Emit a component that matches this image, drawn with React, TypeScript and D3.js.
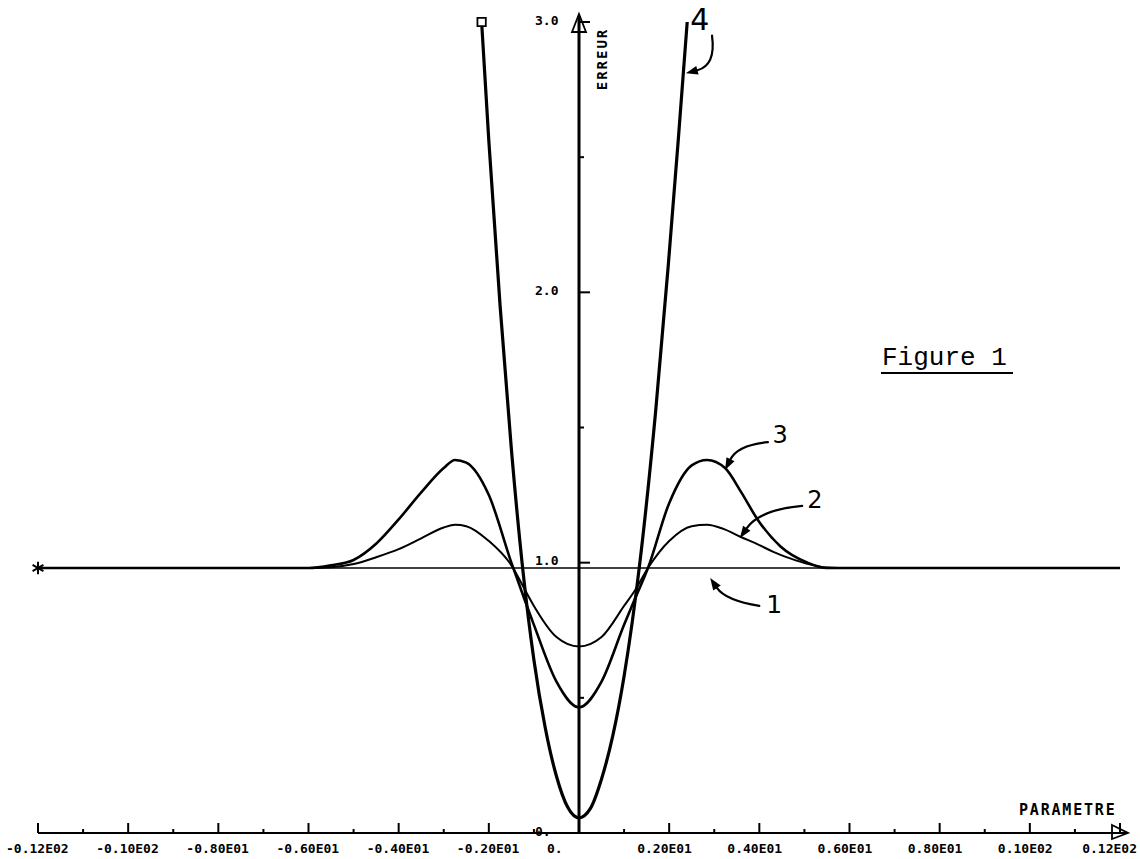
import React, { useEffect, useRef } from 'react';
import * as d3 from 'd3';

const WIDTH = 1140;
const HEIGHT = 859;

// axes
const xMajorTicks = [-12, -10, -8, -6, -4, -2, 0, 2, 4, 6, 8, 10, 12];
const xTickLabels = ['-0.12E02', '-0.10E02', '-0.80E01', '-0.60E01', '-0.40E01', '-0.20E01', '0.', '0.20E01', '0.40E01', '0.60E01', '0.80E01', '0.10E02', '0.12E02'];
const xMinorTicks = [-11, -9, -7, -5, -3, -1, 1, 3, 5, 7, 9, 11];
const yMajorTicks = [0, 1, 2, 3];
const yTickLabels = ['0.', '1.0', '2.0', '3.0'];
const yMinorTicks = [0.5, 1.5, 2.5];

// courbe 1
const curve1X = [-12, 12];
const curve1Y = [0.98, 0.98];

// courbe 2
const curve2X = [-12, -6, -5.5, -5, -4.5, -4, -3.5, -3, -2.75, -2.5, -2, -1.5, -1.2, -1, -0.5, 0, 0.5, 1, 1.25, 1.53, 2, 2.5, 2.84, 3.2, 3.58, 4, 4.31, 4.7, 5.06, 5.5, 6, 12];
const curve2Y = [0.98, 0.98, 0.983, 0.995, 1.02, 1.05, 1.09, 1.13, 1.14, 1.135, 1.08, 0.99, 0.9, 0.84, 0.725, 0.69, 0.725, 0.84, 0.9, 0.98, 1.08, 1.135, 1.14, 1.125, 1.096, 1.065, 1.04, 1.015, 0.996, 0.982, 0.98, 0.98];

// courbe 3
const curve3X = [-12, -6, -5.5, -5, -4.5, -4, -3.5, -3, -2.75, -2.5, -2, -1.5, -1.2, -1, -0.5, 0, 0.5, 1, 1.25, 1.53, 2, 2.5, 2.84, 3.24, 3.6, 3.96, 4.47, 5.07, 5.5, 6, 12];
const curve3Y = [0.98, 0.98, 0.99, 1.01, 1.07, 1.16, 1.26, 1.35, 1.38, 1.37, 1.25, 1.0, 0.86, 0.77, 0.56, 0.465, 0.56, 0.77, 0.87, 0.98, 1.22, 1.36, 1.38, 1.35, 1.26, 1.16, 1.06, 1.0, 0.98, 0.98, 0.98];

// courbe 4
const curve4X = [-2.16, -2.0, -1.75, -1.5, -1.25, -1.0, -0.75, -0.5, -0.25, 0, 0.25, 0.5, 0.75, 1.0, 1.35, 1.7, 1.98, 2.2, 2.4];
const curve4Y = [3.0, 2.56, 1.95, 1.42, 0.98, 0.64, 0.39, 0.21, 0.095, 0.056, 0.09, 0.2, 0.36, 0.58, 1.0, 1.56, 2.1, 2.56, 3.0];

// repères manuscrits : label, position du texte, départ / contrôle / pointe de la flèche
const noteLabels = ['1', '2', '3', '4'];
const noteTextX = [4.33, 5.23, 4.46, 2.68];
const noteTextY = [0.814, 1.202, 1.443, 2.97];
const noteFontSize = [25, 24, 24, 30];
const arrowStart = [[4.0, 0.84], [4.95, 1.21], [4.19, 1.446], [2.95, 2.95]];
const arrowCtrl = [[3.25, 0.86], [4.0, 1.195], [3.52, 1.435], [3.04, 2.84]];
const arrowTip = [[2.91, 0.943], [3.57, 1.091], [3.24, 1.343], [2.37, 2.81]];

const Chart = () => {
    const svgRef = useRef(null);

    useEffect(() => {
        const svg = d3.select(svgRef.current);
        svg.selectAll('*').remove();

        const x = d3.scaleLinear().domain([-12, 12]).range([38, 1120]);
        const y = d3.scaleLinear().domain([0, 3]).range([833, 22]);
        const ink = '#000';
        const plotFont = '"DejaVu Sans Mono", monospace';

        svg.append('rect').attr('width', WIDTH).attr('height', HEIGHT).attr('fill', '#fff');

        // axe X
        const gx = svg.append('g');
        gx.append('line')
            .attr('x1', x(-12)).attr('x2', x(12) + 6)
            .attr('y1', y(0)).attr('y2', y(0))
            .attr('stroke', ink).attr('stroke-width', 2);
        gx.selectAll('line.major').data(xMajorTicks).join('line')
            .attr('class', 'major')
            .attr('x1', d => x(d)).attr('x2', d => x(d))
            .attr('y1', y(0)).attr('y2', y(0) - 10)
            .attr('stroke', ink).attr('stroke-width', 2);
        gx.selectAll('line.minor').data(xMinorTicks).join('line')
            .attr('class', 'minor')
            .attr('x1', d => x(d)).attr('x2', d => x(d))
            .attr('y1', y(0)).attr('y2', y(0) - 4)
            .attr('stroke', ink).attr('stroke-width', 2);
        gx.selectAll('text').data(xMajorTicks).join('text')
            .attr('x', (d, i) => i === xMajorTicks.length - 1 ? WIDTH - 3 : x(d) - 32)
            .attr('text-anchor', (d, i) => i === xMajorTicks.length - 1 ? 'end' : 'start')
            .attr('y', y(0) + 20)
            .attr('font-family', plotFont)
            .attr('font-weight', 'bold')
            .attr('font-size', 13)
            .attr('fill', ink)
            .text((d, i) => xTickLabels[i]);
        // flèche de l'axe X
        gx.append('path')
            .attr('d', `M${x(12) - 8},${y(0) - 8} L${x(12) + 8},${y(0)} L${x(12) - 8},${y(0) + 6} Z`)
            .attr('fill', 'none').attr('stroke', ink).attr('stroke-width', 1.8);
        gx.append('text')
            .attr('x', 1019).attr('y', 815)
            .attr('font-family', plotFont)
            .attr('font-weight', 'bold')
            .attr('font-size', 15)
            .attr('letter-spacing', 1.8)
            .attr('fill', ink)
            .text('PARAMETRE');

        // axe Y
        const gy = svg.append('g');
        gy.append('line')
            .attr('x1', x(0)).attr('x2', x(0))
            .attr('y1', y(0)).attr('y2', y(3) - 6)
            .attr('stroke', ink).attr('stroke-width', 3);
        gy.selectAll('line.major').data(yMajorTicks.filter(d => d > 0)).join('line')
            .attr('class', 'major')
            .attr('x1', x(0)).attr('x2', x(0) + 11)
            .attr('y1', d => y(d)).attr('y2', d => y(d))
            .attr('stroke', ink).attr('stroke-width', 2);
        gy.selectAll('line.minor').data(yMinorTicks).join('line')
            .attr('class', 'minor')
            .attr('x1', x(0)).attr('x2', x(0) + 5)
            .attr('y1', d => y(d)).attr('y2', d => y(d))
            .attr('stroke', ink).attr('stroke-width', 2);
        gy.selectAll('text').data(yMajorTicks).join('text')
            .attr('x', x(0) - 44)
            .attr('y', d => y(d) - 2)
            .attr('dominant-baseline', 'central')
            .attr('font-family', plotFont)
            .attr('font-weight', 'bold')
            .attr('font-size', 13)
            .attr('fill', ink)
            .text((d, i) => yTickLabels[i]);
        // flèche de l'axe Y
        gy.append('path')
            .attr('d', `M${x(0) - 7},${y(3) + 10} L${x(0)},${y(3) - 8} L${x(0) + 7},${y(3) + 10} Z`)
            .attr('fill', 'none').attr('stroke', ink).attr('stroke-width', 1.8);
        gy.append('text')
            .attr('transform', `translate(${x(0) + 23},${y(3) + 37}) rotate(-90)`)
            .attr('text-anchor', 'middle')
            .attr('dominant-baseline', 'central')
            .attr('font-family', plotFont)
            .attr('font-weight', 'bold')
            .attr('font-size', 14)
            .attr('letter-spacing', 2)
            .attr('fill', ink)
            .text('ERREUR');

        // courbes
        const line = d3.line<[number, number]>()
            .x(d => x(d[0]))
            .y(d => y(d[1]))
            .curve(d3.curveMonotoneX);

        const curves = [
            { xs: curve1X, ys: curve1Y, w: 1.6 },
            { xs: curve2X, ys: curve2Y, w: 2 },
            { xs: curve3X, ys: curve3Y, w: 2.6 },
            { xs: curve4X, ys: curve4Y, w: 3.2 },
        ];
        curves.forEach(c => {
            const pts: [number, number][] = c.xs.map((v, i) => [v, c.ys[i]]);
            svg.append('path')
                .datum(pts)
                .attr('fill', 'none')
                .attr('stroke', ink)
                .attr('stroke-width', c.w)
                .attr('stroke-linejoin', 'round')
                .attr('d', line);
        });

        // marqueurs de début de tracé
        svg.append('path')
            .attr('transform', `translate(${x(curve1X[0])},${y(curve1Y[0])})`)
            .attr('d', d3.symbol().type(d3.symbolAsterisk).size(110)())
            .attr('fill', 'none').attr('stroke', ink).attr('stroke-width', 2);
        svg.append('path')
            .attr('transform', `translate(${x(curve4X[0])},${y(curve4Y[0])})`)
            .attr('d', d3.symbol().type(d3.symbolSquare).size(70)())
            .attr('fill', '#fff').attr('stroke', ink).attr('stroke-width', 1.8);

        // repères 1..4 avec flèches
        noteLabels.forEach((lab, i) => {
            const [sx, sy] = [x(arrowStart[i][0]), y(arrowStart[i][1])];
            const [cx, cy] = [x(arrowCtrl[i][0]), y(arrowCtrl[i][1])];
            const [tx, ty] = [x(arrowTip[i][0]), y(arrowTip[i][1])];
            const dx = tx - cx, dy = ty - cy;
            const len = Math.hypot(dx, dy);
            const ux = dx / len, uy = dy / len;
            const bx = tx - ux * 12, by = ty - uy * 12;
            svg.append('path')
                .attr('d', `M${sx},${sy} Q${cx},${cy} ${bx},${by}`)
                .attr('fill', 'none').attr('stroke', ink).attr('stroke-width', 2.2)
                .attr('stroke-linecap', 'round');
            svg.append('path')
                .attr('d', `M${tx},${ty} L${bx - uy * 4.5},${by + ux * 4.5} L${bx + uy * 4.5},${by - ux * 4.5} Z`)
                .attr('fill', ink);
            svg.append('text')
                .attr('x', x(noteTextX[i]))
                .attr('y', y(noteTextY[i]))
                .attr('text-anchor', 'middle')
                .attr('font-family', '"DejaVu Sans", sans-serif')
                .attr('font-size', noteFontSize[i])
                .attr('fill', ink)
                .text(lab);
        });

        // légende dactylographiée
        svg.append('text')
            .attr('x', 882).attr('y', 365)
            .attr('font-family', '"Liberation Mono", "Courier New", monospace')
            .attr('font-size', 26)
            .attr('fill', ink)
            .text('Figure 1');
        svg.append('line')
            .attr('x1', 881).attr('x2', 1013)
            .attr('y1', 373).attr('y2', 373)
            .attr('stroke', ink).attr('stroke-width', 2);
    }, []);

    return (
        <svg ref={svgRef} width={WIDTH} height={HEIGHT} style={{ position: 'absolute', left: 0, top: 0 }} />
    );
};

export default function App() {
    return <Chart />;
}
